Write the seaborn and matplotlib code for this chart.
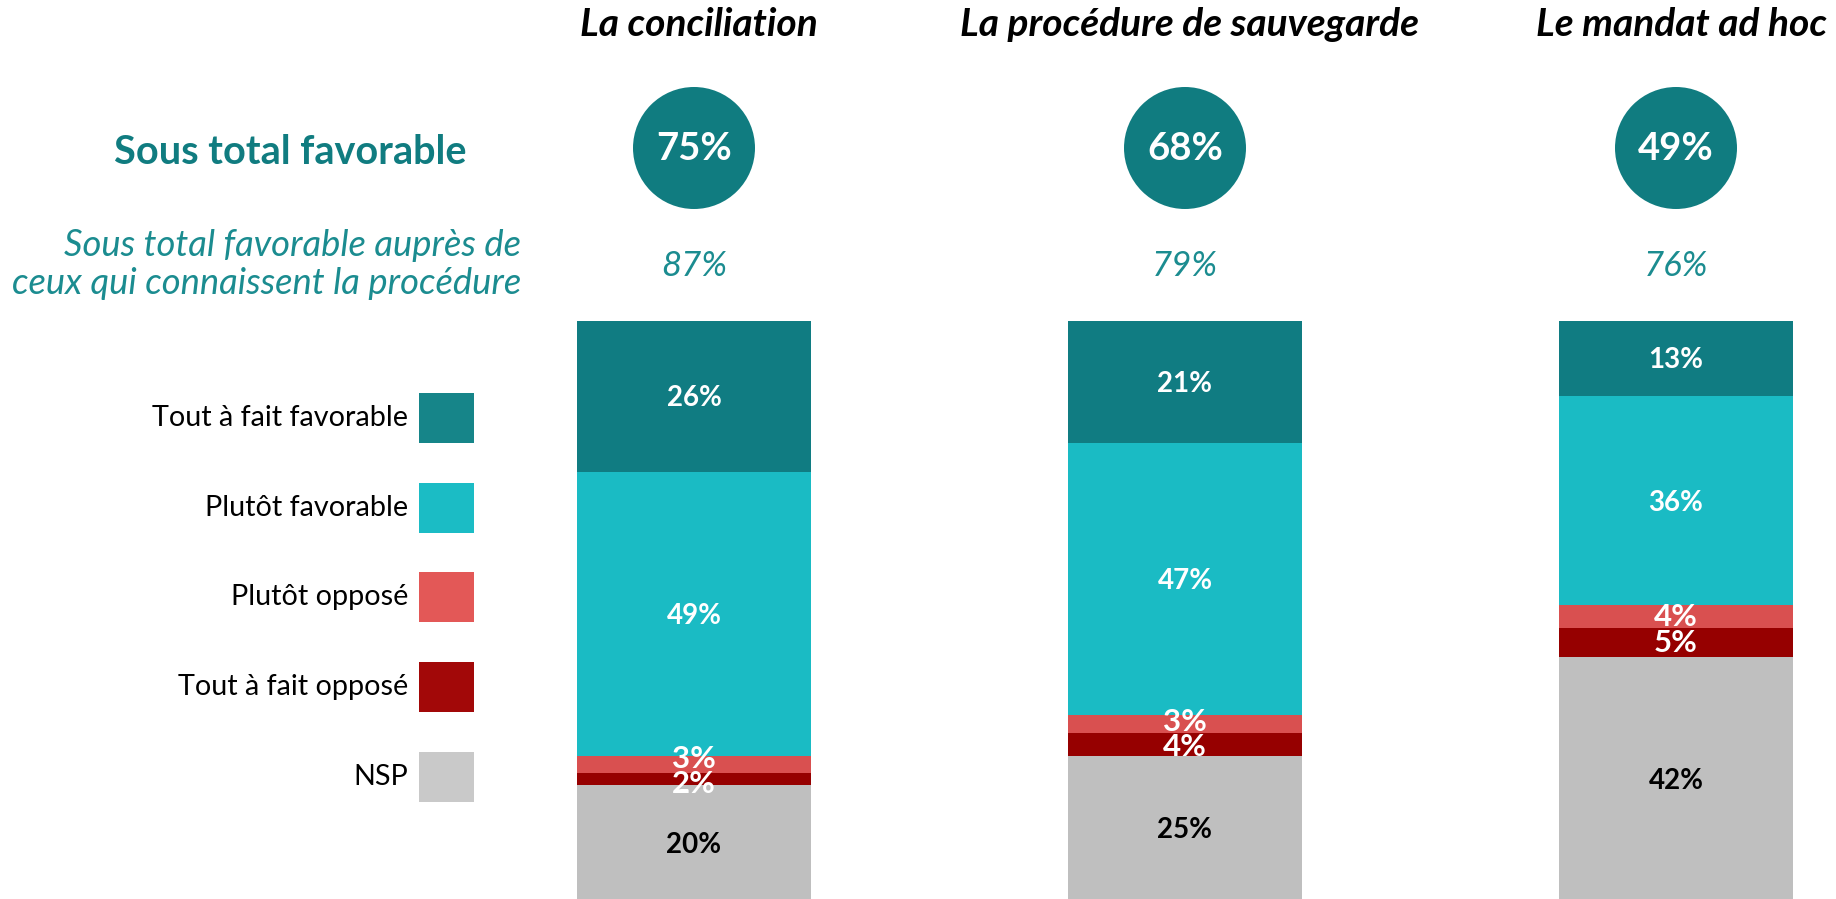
import matplotlib
matplotlib.use("Agg")
import matplotlib.pyplot as plt
import seaborn as sns
import pandas as pd
import numpy as np
from matplotlib.patches import Circle, Rectangle

# ---------------- data ----------------
categories = ["La conciliation", "La procédure de sauvegarde", "Le mandat ad hoc"]
series_names = ["Tout à fait favorable", "Plutôt favorable", "Plutôt opposé",
                "Tout à fait opposé", "NSP"]
tout_fav = [26, 21, 13]
plutot_fav = [49, 47, 36]
plutot_opp = [3, 3, 4]
tout_opp = [2, 4, 5]
nsp = [20, 25, 42]
sous_total = [75, 68, 49]
sous_total_connu = [87, 79, 76]

# ---------------- style ----------------
bar_colors = ["#107C82", "#1ABBC4", "#D95050", "#960000", "#BFBFBF"]
legend_colors = ["#168589", "#1BBCC5", "#E35857", "#A20808", "#C9C9C9"]
label_colors = ["white", "white", "white", "white", "black"]
teal = "#107C80"
teal_light = "#1B8C90"

sns.set_style("white")
plt.rcParams["font.family"] = ["Lato", "DejaVu Sans"]

W, H = 1836, 899
fig = plt.figure(figsize=(W / 100, H / 100), dpi=100)
fig.patch.set_facecolor("white")

# bar axes: 0..100 mapped to pixel rows 321..901
bar_top, bar_bot = 321, 901
ax = fig.add_axes([0, (H - bar_bot) / H, 1, (bar_bot - bar_top) / H])
x0_px, step_px, bw_px = 694, 491, 234

series = [tout_fav, plutot_fav, plutot_opp, tout_opp, nsp]
cums = np.cumsum(np.array(series), axis=0)  # cumulative from top

for k in range(len(series) - 1, -1, -1):
    d = pd.DataFrame({"cat": categories, "cum": cums[k]})
    sns.barplot(data=d, x="cat", y="cum", color=bar_colors[k], saturation=1,
                width=bw_px / step_px, linewidth=0, ax=ax, order=categories)

ax.set_xlim(-x0_px / step_px, (W - x0_px) / step_px)
ax.set_ylim(100, 0)
ax.axis("off")

# segment labels (small adjacent labels spread apart a little)
min_gap = 4.3
for i in range(len(categories)):
    pos = []
    for k, vals in enumerate(series):
        v = vals[i]
        pos.append(cums[k][i] - v / 2)
    for k in range(len(series) - 1):
        if series[k][i] < 6 and series[k + 1][i] < 6:
            gap = pos[k + 1] - pos[k]
            if gap < min_gap:
                shift = (min_gap - gap) / 2
                pos[k] -= shift
                pos[k + 1] += shift
    for k, vals in enumerate(series):
        v = vals[i]
        small = v < 6
        ax.text(i, pos[k] + (0.0 if small else 0.3), f"{v}%", ha="center",
                va="center", color=label_colors[k], fontweight="bold",
                fontsize=22.5 if small else 20)

# overlay axes in pixel units
ov = fig.add_axes([0, 0, 1, 1])
ov.set_xlim(0, W)
ov.set_ylim(H, 0)
ov.axis("off")
ov.patch.set_alpha(0)

centers = [x0_px + i * step_px for i in range(len(categories))]
for i, cat in enumerate(categories):
    cx = centers[i]
    ov.text(cx + 5, 24, cat, ha="center", va="center", fontsize=28,
            fontweight="bold", fontstyle="italic", color="black")
    ov.add_patch(Circle((cx, 148), 61, facecolor=teal, edgecolor="none"))
    ov.text(cx, 149, f"{sous_total[i]}%", ha="center", va="center",
            fontsize=27.5, fontweight="bold", color="white")
    ov.text(cx, 266, f"{sous_total_connu[i]}%", ha="center", va="center",
            fontsize=25, fontstyle="italic", color=teal_light)

ov.text(466, 152, "Sous total favorable", ha="right", va="center",
        fontsize=28.5, fontweight="bold", color=teal)
ov.text(521, 246, "Sous total favorable auprès de", ha="right", va="center",
        fontsize=26.2, fontstyle="italic", color=teal_light)
ov.text(521, 284, "ceux qui connaissent la procédure", ha="right", va="center",
        fontsize=26.2, fontstyle="italic", color=teal_light)

# legend
leg_y = [418, 508, 597, 687, 777]
for k, name in enumerate(series_names):
    ov.add_patch(Rectangle((419, leg_y[k] - 25), 55, 50,
                           facecolor=legend_colors[k], edgecolor="none"))
    ov.text(408, leg_y[k], name, ha="right", va="center", fontsize=20.7,
            color="black")

fig.savefig("out.png", dpi=100, facecolor="white")
